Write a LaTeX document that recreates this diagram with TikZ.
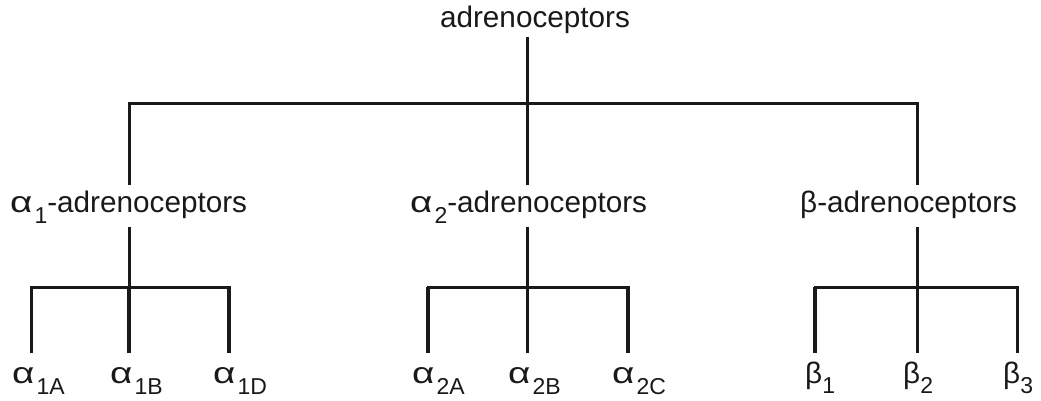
\documentclass[tikz,border=0pt]{standalone}
\usepackage{fontspec}
\setmainfont{Liberation Sans}
\newcommand{\lsub}[1]{\hspace{2pt}\raisebox{-11pt}{\fontsize{23}{23}\selectfont #1}}
\newcommand{\bsub}[1]{\raisebox{-10pt}{\fontsize{23}{23}\selectfont #1}}
\newcommand{\alf}{\scalebox{1.3}[1.0]{α}}
\begin{document}
\begin{tikzpicture}[x=1pt,y=-1pt,
  lbl/.style={inner sep=0pt,text=black!90,font=\fontsize{29.7}{34}\selectfont},
  midlbl/.style={lbl,anchor=base west,text height=22pt,text depth=8pt},
  leaflbl/.style={lbl,anchor=base west,text height=15pt,text depth=8pt},
  ln/.style={line width=3pt,black!90},
  thk/.style={line width=4.5pt,black!90},
  bar/.style={line width=3pt,black!90,line cap=rect}]
\useasboundingbox (0,0) rectangle (1041,400);
% labels
\node[lbl,anchor=base,text depth=6pt] (root) at (535,27) {adrenoceptors};
\node[midlbl] (a1) at (10,212) {\alf\lsub{1}-adrenoceptors};
\node[midlbl] (a2) at (410,212) {\alf\lsub{2}-adrenoceptors};
\node[midlbl] (b) at (800,212) {β-adrenoceptors};
\node[leaflbl] (a1A) at (12,383) {\alf\lsub{1A}};
\node[leaflbl] (a1B) at (110,383) {\alf\lsub{1B}};
\node[leaflbl] (a1D) at (213,383) {\alf\lsub{1D}};
\node[leaflbl] (a2A) at (412,383) {\alf\lsub{2A}};
\node[leaflbl] (a2B) at (508,383) {\alf\lsub{2B}};
\node[leaflbl] (a2C) at (612,383) {\alf\lsub{2C}};
\node[leaflbl] (b1) at (805,383) {β\bsub{1}};
\node[leaflbl] (b2) at (903,383) {β\bsub{2}};
\node[leaflbl] (b3) at (1003,383) {β\bsub{3}};
% junctions
\coordinate (j0) at (527,103);
\coordinate (j1) at (129,103);
\coordinate (j3) at (917,103);
\coordinate (h1) at (129,287);
\coordinate (h2) at (527,287);
\coordinate (h3) at (917,287);
\coordinate (l1) at (31,287);
\coordinate (r1) at (229,287);
\coordinate (l2) at (428,287);
\coordinate (r2) at (628,287);
\coordinate (l3) at (815,287);
\coordinate (r3) at (1017,287);
% top level
\draw[ln,shorten <=4pt] (j0 |- root.south) -- (j0);
\draw[bar] (j1) -- (j3);
\draw[ln,shorten >=5pt] (j1) -- (j1 |- a1.north);
\draw[ln,shorten >=5pt] (j0) -- (j0 |- a2.north);
\draw[ln,shorten >=5pt] (j3) -- (j3 |- b.north);
% second level
\draw[ln,shorten <=7pt] (h1 |- a1.south) -- (h1);
\draw[ln,shorten <=7pt] (h2 |- a2.south) -- (h2);
\draw[ln,shorten <=7pt] (h3 |- b.south) -- (h3);
\draw[bar] (l1) -- (r1);
\draw[bar] (l2) -- (r2);
\draw[bar] (l3) -- (r3);
% leaves
\draw[ln,shorten >=15pt] (l1) -- (l1 |- a1A.north);
\draw[thk,shorten >=15pt] (h1) -- (h1 |- a1B.north);
\draw[thk,shorten >=15pt] (r1) -- (r1 |- a1D.north);
\draw[thk,shorten >=15pt] (l2) -- (l2 |- a2A.north);
\draw[ln,shorten >=15pt] (h2) -- (h2 |- a2B.north);
\draw[thk,shorten >=15pt] (r2) -- (r2 |- a2C.north);
\draw[thk,shorten >=15pt] (l3) -- (l3 |- b1.north);
\draw[ln,shorten >=15pt] (h3) -- (h3 |- b2.north);
\draw[ln,shorten >=15pt] (r3) -- (r3 |- b3.north);
\end{tikzpicture}
\end{document}
